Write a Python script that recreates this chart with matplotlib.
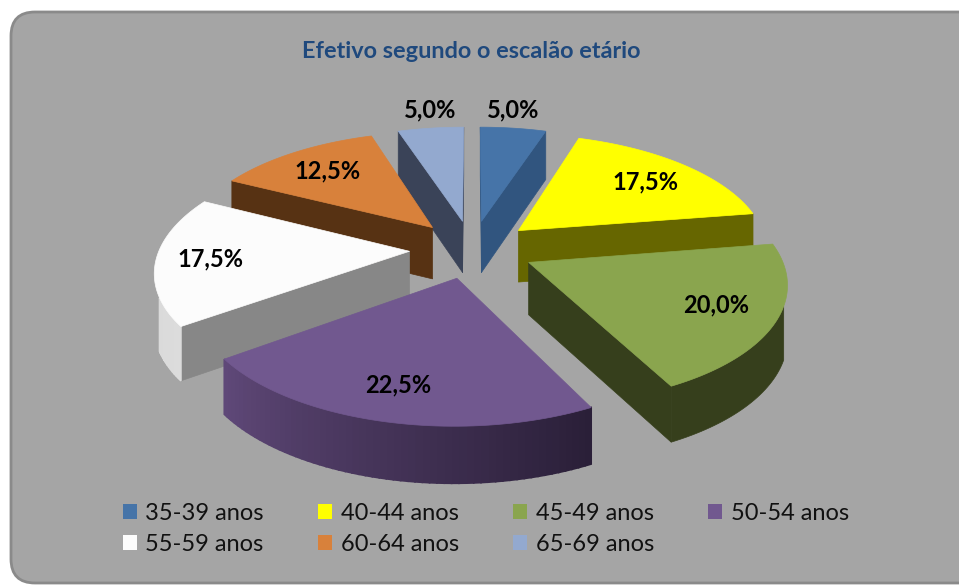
import numpy as np
import matplotlib
matplotlib.use("Agg")
import matplotlib.pyplot as plt
from matplotlib.colors import to_rgb
from matplotlib.patches import FancyBboxPatch, Patch, Polygon

plt.rcParams["font.family"] = ["Lato", "DejaVu Sans"]

categorias = ["35-39 anos", "40-44 anos", "45-49 anos", "50-54 anos",
              "55-59 anos", "60-64 anos", "65-69 anos"]
valores = [5.0, 17.5, 20.0, 22.5, 17.5, 12.5, 5.0]
etiquetas = ["5,0%", "17,5%", "20,0%", "22,5%", "17,5%", "12,5%", "5,0%"]

cor_topo = ["#4674a8", "#ffff00", "#8aa54e", "#71588f", "#fcfcfc", "#d8813b", "#93a9cf"]
cor_raio = ["#31557f", "#666600", "#363f1c", "#3a2d4c", "#878787", "#573213", "#3a4358"]
cor_arco_ini = ["#31557f", "#666600", "#363f1c", "#2a1f38", "#dcdcdc", "#573213", "#3a4358"]
cor_arco_fim = ["#31557f", "#666600", "#363f1c", "#5f4878", "#d4d4d4", "#573213", "#3a4358"]

# posicao das etiquetas, em pixels
pos_etiquetas = [(513, 110), (645, 182), (716, 305), (398, 385),
                 (210, 259), (328, 171), (430, 110)]

# projecao do disco para pixels
CX, CY = 472, 249
R, T, K = 250, 0.464, 0.15
ALTURA = 52
EXPLODE = 0.25


def proj(x, y, z=0.0):
    w = 1 + K * y
    return CX + R * x / w, CY - R * T * y / w + ALTURA * z / w ** 0.45


def na_frente(a, b, outro):
    # a parede sob a aresta a-b so se ve se o resto da fatia fica acima dela
    if abs(b[0] - a[0]) < 1:
        return False
    y_linha = a[1] + (outro[0] - a[0]) * (b[1] - a[1]) / (b[0] - a[0])
    return outro[1] < y_linha


def desenhar_fatia(ax, ini, fim, i):
    meio = (ini + fim) / 2
    ex, ey = EXPLODE * np.sin(meio), EXPLODE * np.cos(meio)
    ang = np.linspace(ini, fim, 60)
    xs, ys = ex + np.sin(ang), ey + np.cos(ang)

    apice = proj(ex, ey)
    apice_z = proj(ex, ey, 1)
    aro = [proj(x, y) for x, y in zip(xs, ys)]
    aro_z = [proj(x, y, 1) for x, y in zip(xs, ys)]
    aro_meio = aro[30]

    for k in (0, -1):
        if na_frente(apice, aro[k], aro_meio):
            ax.add_patch(Polygon([apice, aro[k], aro_z[k], apice_z], closed=True,
                                 fc=cor_raio[i], ec=cor_raio[i], lw=0.5))

    # parede curva: so os trechos virados para a frente
    visiveis = [k for k in range(len(ang) - 1) if na_frente(aro[k], aro[k + 1], apice)]
    if visiveis:
        a, b = visiveis[0], visiveis[-1] + 1
        if cor_arco_ini[i] == cor_arco_fim[i]:
            ax.add_patch(Polygon(aro[a:b + 1] + aro_z[a:b + 1][::-1], closed=True,
                                 fc=cor_arco_ini[i], ec=cor_arco_ini[i], lw=0.5))
        else:
            c0, c1 = np.array(to_rgb(cor_arco_ini[i])), np.array(to_rgb(cor_arco_fim[i]))
            for k in visiveis:
                cor = c0 + (c1 - c0) * k / (len(ang) - 2)
                ax.add_patch(Polygon([aro[k], aro[k + 1], aro_z[k + 1], aro_z[k]], closed=True,
                                     fc=cor, ec=cor, lw=1.2))

    ax.add_patch(Polygon([apice] + aro, closed=True, fc=cor_topo[i], ec=cor_topo[i], lw=0.5))


fig = plt.figure(figsize=(9.59, 5.85), dpi=100, facecolor="white")
ax = fig.add_axes([0, 0, 1, 1])
ax.set_xlim(0, 959)
ax.set_ylim(585, 0)
ax.axis("off")

ax.add_patch(FancyBboxPatch((11, 12), 990, 571, boxstyle="round,pad=0,rounding_size=24",
                            fc="#a5a5a5", ec="#8a8a8a", lw=2))

limites = np.radians(np.cumsum([0] + valores) * 3.6)
meios = (limites[:-1] + limites[1:]) / 2

# de tras para a frente
for i in sorted(range(len(valores)), key=lambda n: -np.cos(meios[n])):
    desenhar_fatia(ax, limites[i], limites[i + 1], i)

for txt, (x, y) in zip(etiquetas, pos_etiquetas):
    ax.text(x, y, txt, ha="center", va="center", fontsize=17, fontweight="bold", color="black")

ax.text(471, 52, "Efetivo segundo o escalão etário", ha="center", va="center",
        fontsize=16.9, fontweight="bold", color="#1f497d")

ordem = [0, 4, 1, 5, 2, 6, 3]
handles = [Patch(fc=cor_topo[i], ec="none", label=categorias[i]) for i in ordem]
ax.legend(handles=handles, ncols=4, loc="upper left", bbox_to_anchor=(0.128, 0.141),
          frameon=False, fontsize=17, labelcolor="#111111", handlelength=0.6,
          handleheight=0.6, handletextpad=0.36, columnspacing=2.29, labelspacing=0.43,
          borderpad=0, borderaxespad=0)

fig.savefig("out.png", dpi=100)
plt.close(fig)
